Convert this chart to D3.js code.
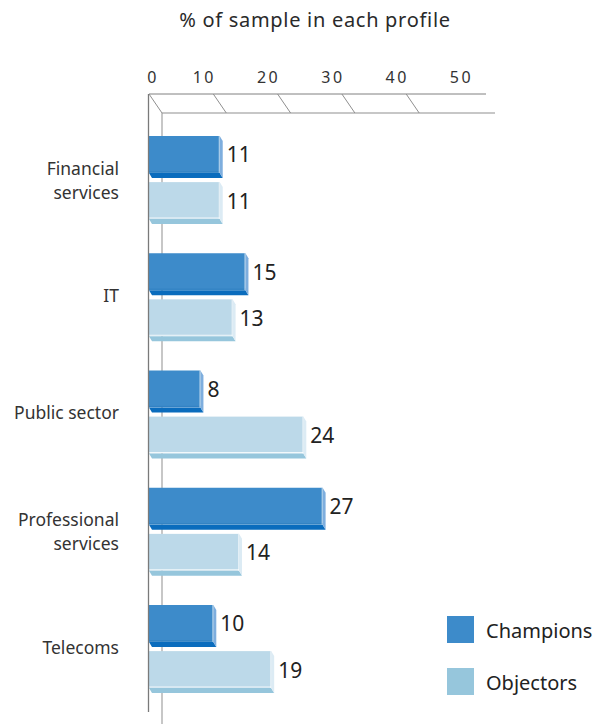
<!DOCTYPE html>
<html>
<head>
<meta charset="utf-8">
<script src="https://cdn.jsdelivr.net/npm/d3@7"></script>
<style>
  html, body { margin: 0; padding: 0; background: #fff; }
  svg { display: block; font-family: "Noto Sans", "Open Sans", sans-serif; }
</style>
</head>
<body>
<svg id="chart" width="608" height="724"></svg>
<script>
// Sector profiles (label lines per category)
const categories = ["Financial services", "IT", "Public sector", "Professional services", "Telecoms"];
const categoryLines = [["Financial", "services"], ["IT"], ["Public sector"], ["Professional", "services"], ["Telecoms"]];
const seriesNames = ["Champions", "Objectors"];
const champions = [11, 15, 8, 27, 10];
const objectors = [11, 13, 24, 14, 19];
const tickValues = [0, 10, 20, 30, 40, 50];
const title = "% of sample in each profile";

const colors = {
  Champions: { front: "#3d8bca", bottom: "#0a6cbd", side: "#7eaede", legend: "#3d8bca" },
  Objectors: { front: "#bcd9e9", bottom: "#96c6dc", side: "#dcebf4", legend: "#96c6dc" }
};

const svg = d3.select("#chart");

// Scales
const x = d3.scaleLinear().domain([0, 50]).range([149, 470.5]);
const y0 = d3.scaleBand().domain(categories).range([136, 136 + 5 * 117.25]);
const y1 = d3.scaleBand().domain(seriesNames).range([0, 83]).paddingInner(0.2);

// Depth of the axis "wall" and of each bar
const wallDx = 13, wallDy = 19;
const barDx = 3, barDy = 5;
const topY = 94;

// Title
svg.append("text")
  .attr("x", 315).attr("y", 27)
  .attr("text-anchor", "middle")
  .attr("font-size", 20)
  .attr("letter-spacing", 0.7)
  .attr("fill", "#2a2a2a")
  .text(title);

// Top value axis drawn as a shallow 3D floor
const axisG = svg.append("g").attr("stroke", "#8f8f8f").attr("fill", "none").attr("stroke-width", 1);
axisG.append("line").attr("x1", x(0)).attr("x2", 486).attr("y1", topY).attr("y2", topY).attr("stroke", "#808080");
axisG.append("line").attr("x1", x(0) + wallDx).attr("x2", 495).attr("y1", topY + wallDy).attr("y2", topY + wallDy);
axisG.selectAll("line.tick")
  .data(tickValues.filter(v => v < 50))
  .join("line")
  .attr("class", "tick")
  .attr("x1", d => x(d)).attr("y1", topY)
  .attr("x2", d => x(d) + wallDx).attr("y2", topY + wallDy);

// Back vertical line (behind bars)
axisG.append("line")
  .attr("x1", x(0) + wallDx).attr("x2", x(0) + wallDx)
  .attr("y1", topY + wallDy).attr("y2", 724);

// Tick labels
svg.append("g").selectAll("text")
  .data(tickValues)
  .join("text")
  .attr("x", d => d === 0 ? x(d) + 4 : x(d) - 9)
  .attr("y", 83)
  .attr("text-anchor", "middle")
  .attr("font-size", 16)
  .attr("letter-spacing", 2.5)
  .attr("fill", "#333")
  .text(d => d);

// Bars
const rows = [];
categories.forEach((c, i) => {
  rows.push({ cat: c, series: "Champions", value: champions[i] });
  rows.push({ cat: c, series: "Objectors", value: objectors[i] });
});

const barH = y1.bandwidth();
const barG = svg.append("g");
rows.forEach(d => {
  const x0 = x(0), x1 = x(d.value);
  const yTop = y0(d.cat) + y1(d.series);
  const yBot = yTop + barH;
  const col = colors[d.series];
  const g = barG.append("g");
  // bottom face
  g.append("polygon")
    .attr("points", [[x0, yBot], [x1, yBot], [x1 + barDx, yBot + barDy], [x0 + barDx, yBot + barDy]].join(" "))
    .attr("fill", col.bottom);
  // right side face
  g.append("polygon")
    .attr("points", [[x1, yTop], [x1 + barDx, yTop + barDy], [x1 + barDx, yBot + barDy], [x1, yBot]].join(" "))
    .attr("fill", col.side);
  // front face
  g.append("rect")
    .attr("x", x0).attr("y", yTop)
    .attr("width", x1 - x0).attr("height", barH)
    .attr("fill", col.front);
  // light edge along the front face
  g.append("line")
    .attr("x1", x0).attr("x2", x1)
    .attr("y1", yBot - 1).attr("y2", yBot - 1)
    .attr("stroke", d.series === "Objectors" ? "#ffffff" : "#2f7fc0")
    .attr("stroke-opacity", 0.8)
    .attr("stroke-width", 1);
  g.append("line")
    .attr("x1", x1 - 0.5).attr("x2", x1 - 0.5)
    .attr("y1", yTop).attr("y2", yBot)
    .attr("stroke", "#ffffff").attr("stroke-opacity", 0.6);
  // value label
  g.append("text")
    .attr("x", x1 + barDx + 4)
    .attr("y", yTop + barH / 2 + 8)
    .attr("font-size", 21)
    .attr("fill", "#222")
    .text(d.value);
});

// Front vertical axis line
svg.append("line")
  .attr("x1", x(0) - 0.5).attr("x2", x(0) - 0.5)
  .attr("y1", topY).attr("y2", 712)
  .attr("stroke", "#7a7a7a").attr("stroke-width", 1.3);

// Category labels
const catG = svg.append("g");
categories.forEach((c, i) => {
  const lines = categoryLines[i];
  const center = y0(c) + 89 / 2;
  const t = catG.append("text")
    .attr("text-anchor", "end")
    .attr("font-size", 17.5)
    .attr("fill", "#333");
  lines.forEach((ln, k) => {
    t.append("tspan")
      .attr("x", 119)
      .attr("y", center + 4 - (lines.length - 1) * 10 + k * 24)
      .text(ln);
  });
});

// Legend
const legend = svg.append("g");
seriesNames.forEach((s, i) => {
  const yy = 616 + i * 52;
  legend.append("rect")
    .attr("x", 447).attr("y", yy)
    .attr("width", 27).attr("height", 27)
    .attr("fill", colors[s].legend);
  legend.append("text")
    .attr("x", 486).attr("y", yy + 22)
    .attr("font-size", 20)
    .attr("fill", "#222")
    .text(s);
});
</script>
</body>
</html>
